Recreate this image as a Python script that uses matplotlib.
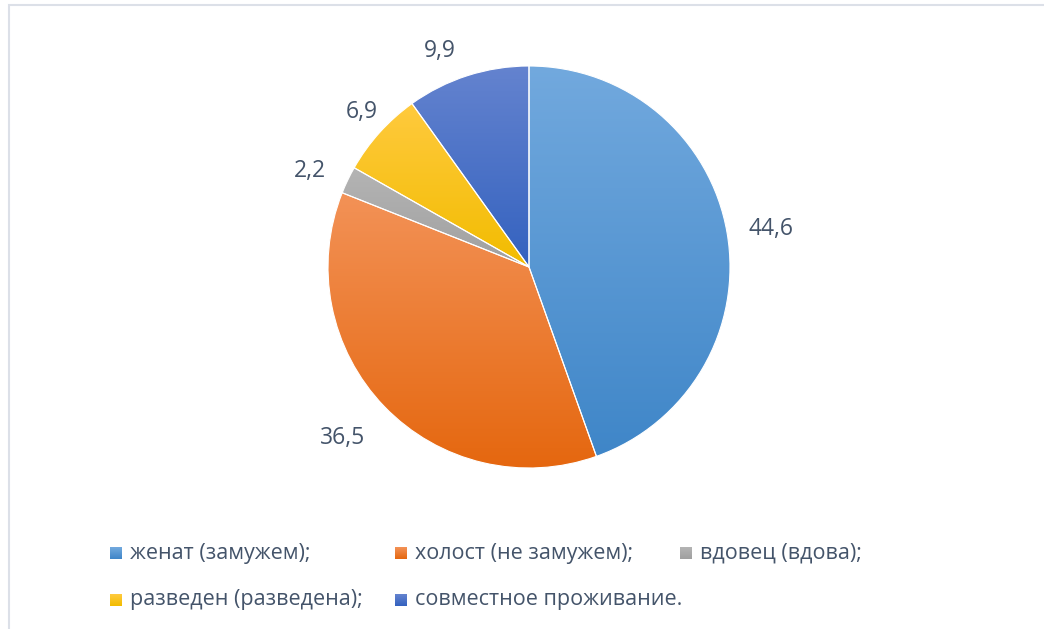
import numpy as np
import matplotlib
matplotlib.use("Agg")
import matplotlib.pyplot as plt
from matplotlib.colors import LinearSegmentedColormap
from matplotlib.patches import Rectangle

categories = ["женат (замужем);", "холост (не замужем);", "вдовец (вдова);",
              "разведен (разведена);", "совместное проживание."]
values = [44.6, 36.5, 2.2, 6.9, 9.9]
value_labels = ["44,6", "36,5", "2,2", "6,9", "9,9"]

# light (top) / dark (bottom) colours of each slice gradient
top_colors = ["#72A9DE", "#F39257", "#B4B4B4", "#FFCA3E", "#6483CF"]
bottom_colors = ["#3F86C8", "#E5670F", "#A0A0A0", "#F2BC00", "#3462BF"]

text_color = "#44546A"
plt.rcParams["font.family"] = ["Open Sans", "DejaVu Sans"]

W, H = 1044, 629
fig = plt.figure(figsize=(W / 100, H / 100), dpi=100)

# chart area border
fig.patches.append(Rectangle((9 / W, -0.05), 1.1, (H - 4.5) / H + 0.05,
                             transform=fig.transFigure, fill=False,
                             edgecolor="#DCE0E8", linewidth=1.5))

cx, cy, r = 529, H - 267, 201
ax = fig.add_axes([(cx - r) / W, (cy - r) / H, 2 * r / W, 2 * r / H])
ax.set_xlim(-1, 1)
ax.set_ylim(-1, 1)
ax.set_aspect("equal")
ax.axis("off")

wedges, _ = ax.pie(values, startangle=90, counterclock=False, radius=1,
                   colors=bottom_colors,
                   wedgeprops=dict(edgecolor="white", linewidth=0.8))

grad = np.linspace(1, 0, 256).reshape(-1, 1)
for w, c0, c1 in zip(wedges, top_colors, bottom_colors):
    ext = w.get_path().get_extents()
    cmap = LinearSegmentedColormap.from_list("g", [c1, c0])
    im = ax.imshow(grad, cmap=cmap, aspect="auto",
                   extent=[ext.x0, ext.x1, ext.y0, ext.y1], zorder=w.get_zorder())
    im.set_clip_path(w)
    w.set_facecolor("none")
    w.set_zorder(w.get_zorder() + 0.1)
ax.set_xlim(-1, 1)
ax.set_ylim(-1, 1)

# value labels outside the slices (radius, small angular nudge in degrees)
dist = [1.22, 1.257, 1.192, 1.134, 1.164]
nudge = [-0.8, -1.4, 2.0, -0.9, 4.5]
start = 90.0
total = sum(values)
for v, lab, d, dn in zip(values, value_labels, dist, nudge):
    mid = np.deg2rad(start - v / total * 180.0 + dn)
    start -= v / total * 360.0
    ax.text(d * np.cos(mid), d * np.sin(mid), lab, ha="center", va="center",
            fontsize=16.5, color=text_color, clip_on=False)

# legend: three columns, row-major order
for i, (lab, c0, c1) in enumerate(zip(categories, top_colors, bottom_colors)):
    row, col = divmod(i, 3)
    x = 110 + col * 285
    y = 553 + row * 47
    sq = fig.add_axes([x / W, (H - y - 6) / H, 12 / W, 12 / H])
    sq.imshow(np.linspace(1, 0, 32).reshape(-1, 1),
              cmap=LinearSegmentedColormap.from_list("s", [c1, c0]),
              aspect="auto", extent=[0, 1, 0, 1])
    sq.axis("off")
    fig.text((x + 20) / W, (H - y) / H, lab, ha="left", va="center",
             fontsize=15.5, color=text_color)

fig.savefig("out.png", dpi=100)
